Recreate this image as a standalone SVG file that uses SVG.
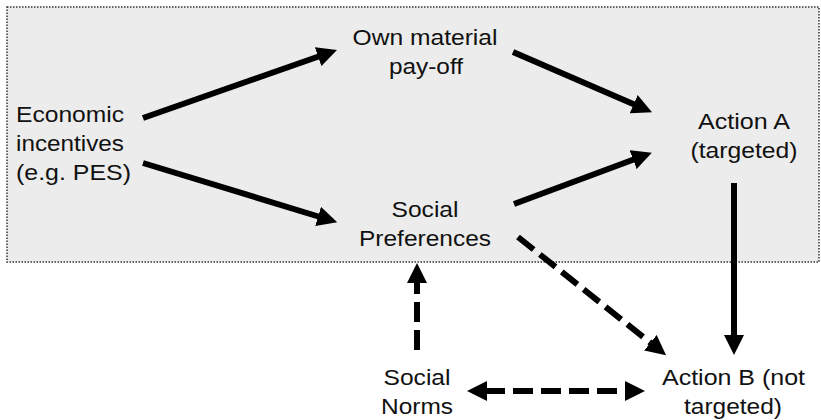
<svg xmlns="http://www.w3.org/2000/svg" width="821" height="420" viewBox="0 0 821 420">
<style>
text{font-family:"Liberation Sans",Arial,sans-serif;font-size:22px;fill:#111}
.c{text-anchor:middle}
.a{stroke:#000;stroke-width:6;fill:none}
.d{stroke-dasharray:20 8}
</style>
<defs>
<marker id="h" viewBox="0 0 20 20" refX="2" refY="10" markerWidth="20" markerHeight="20" markerUnits="userSpaceOnUse" orient="auto-start-reverse">
<path d="M0,0 L20,10 L0,20 z" fill="#000"/>
</marker>
</defs>
<rect x="7" y="7" width="812" height="255" fill="#ececec" stroke="#333" stroke-width="1.5" stroke-dasharray="1.5 1.5"/>
<g id="econ"><text x="16" y="122" textLength="108" lengthAdjust="spacingAndGlyphs">Economic</text><text x="16" y="151" textLength="108" lengthAdjust="spacingAndGlyphs">incentives</text><text x="16" y="180" textLength="115" lengthAdjust="spacingAndGlyphs">(e.g. PES)</text></g>
<g id="own"><text class="c" x="425" y="45" textLength="145" lengthAdjust="spacingAndGlyphs">Own material</text><text class="c" x="426" y="74" textLength="74" lengthAdjust="spacingAndGlyphs">pay-off</text></g>
<g id="social-pref"><text class="c" x="425" y="217" textLength="67" lengthAdjust="spacingAndGlyphs">Social</text><text class="c" x="425" y="246" textLength="132" lengthAdjust="spacingAndGlyphs">Preferences</text></g>
<g id="action-a"><text class="c" x="744" y="129" textLength="92" lengthAdjust="spacingAndGlyphs">Action A</text><text class="c" x="744" y="158" textLength="107" lengthAdjust="spacingAndGlyphs">(targeted)</text></g>
<g id="social-norms"><text class="c" x="417" y="385" textLength="67" lengthAdjust="spacingAndGlyphs">Social</text><text class="c" x="417" y="414" textLength="72" lengthAdjust="spacingAndGlyphs">Norms</text></g>
<g id="action-b"><text class="c" x="733.5" y="385" textLength="143" lengthAdjust="spacingAndGlyphs">Action B (not</text><text class="c" x="733" y="414" textLength="98" lengthAdjust="spacingAndGlyphs">targeted)</text></g>
<g id="connectors">
<line class="a" x1="143" y1="118" x2="320" y2="56" marker-end="url(#h)"/>
<line class="a" x1="143" y1="163" x2="320" y2="217" marker-end="url(#h)"/>
<line class="a" x1="513" y1="52" x2="635.5" y2="105" marker-end="url(#h)"/>
<line class="a" x1="514" y1="204" x2="635" y2="159" marker-end="url(#h)"/>
<line class="a" x1="734" y1="183" x2="734" y2="337" marker-end="url(#h)"/>
<line class="a d" x1="518" y1="237" x2="652" y2="344" marker-end="url(#h)"/>
<line class="a d" x1="417" y1="350" x2="417" y2="281" marker-end="url(#h)"/>
<line class="a d" x1="485" y1="391" x2="627" y2="391" marker-start="url(#h)" marker-end="url(#h)"/>
</g>
</svg>
